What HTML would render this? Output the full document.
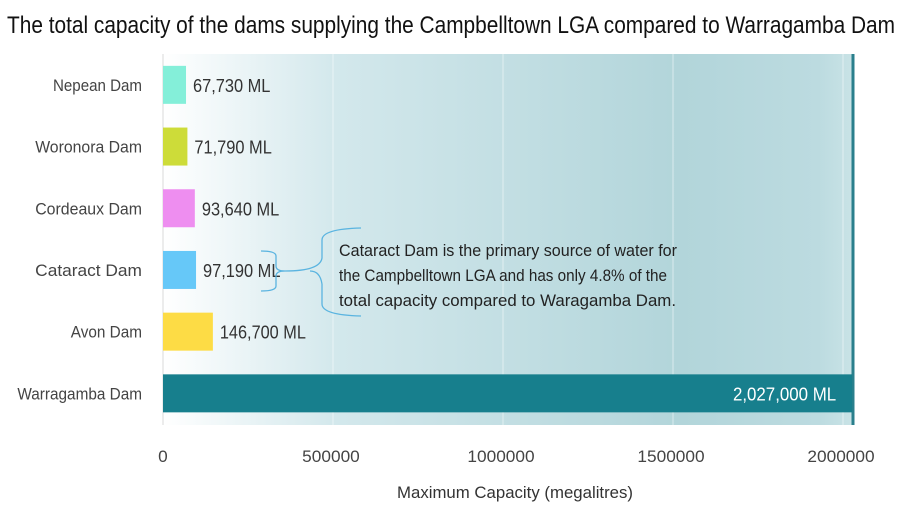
<!DOCTYPE html>
<html><head><meta charset="utf-8"><style>
html,body{margin:0;padding:0;background:#fff}
svg{display:block;font-family:"Liberation Sans Narrow","Liberation Sans",sans-serif}
</style></head><body>
<svg id="chart" width="900" height="510" viewBox="0 0 900 510">
<defs>
<linearGradient id="bg" x1="0" x2="1" y1="0" y2="0">
<stop offset="0" stop-color="#ffffff"/>
<stop offset="0.25" stop-color="#d3e8ec"/>
<stop offset="0.75" stop-color="#b2d5da"/>
<stop offset="0.95" stop-color="#bcdbe0"/>
<stop offset="1" stop-color="#c9e3e6"/>
</linearGradient>
</defs>
<text x="7" y="33" font-size="24" fill="#111" textLength="888" lengthAdjust="spacingAndGlyphs">The total capacity of the dams supplying the Campbelltown LGA compared to Warragamba Dam</text>
<rect x="163" y="54" width="690" height="371" fill="url(#bg)"/>
<line x1="853" y1="54" x2="853" y2="425" stroke="#2a7f8c" stroke-width="3"/>
<line x1="163" y1="54" x2="163" y2="425" stroke="#d8d8d8" stroke-width="1"/>
<g id="grid"></g>
<g id="bars"></g>
<g id="labels"></g>
<g id="ticks"></g>
<g>
<path d="M261,251 Q276,251 276,256 L276,266 Q276,271 285,271 Q276,271 276,276 L276,286 Q276,291 261,291" fill="none" stroke="#5ab4e0" stroke-width="1.3"/>
<path d="M285,271 Q320,271 322,258 L322,240 Q322,229 361,228 M322,284 L322,304 Q322,315 361,316 M322,284 Q320,271 310,271" fill="none" stroke="#5ab4e0" stroke-width="1.3"/>
<text font-size="17" fill="#222">
<tspan x="339" y="256" textLength="338" lengthAdjust="spacingAndGlyphs">Cataract Dam is the primary source of water for</tspan>
<tspan x="339" y="281" textLength="328" lengthAdjust="spacingAndGlyphs">the Campbelltown LGA and has only 4.8% of the</tspan>
<tspan x="339" y="306" textLength="337" lengthAdjust="spacingAndGlyphs">total capacity compared to Waragamba Dam.</tspan>
</text>
</g>
<text x="515" y="498" font-size="17" fill="#333" text-anchor="middle" textLength="236" lengthAdjust="spacingAndGlyphs">Maximum Capacity (megalitres)</text>
</svg>
<script>
const categories = ["Nepean Dam","Woronora Dam","Cordeaux Dam","Cataract Dam","Avon Dam","Warragamba Dam"];
const values = [67730, 71790, 93640, 97190, 146700, 2027000];
const valueLabels = ["67,730 ML","71,790 ML","93,640 ML","97,190 ML","146,700 ML","2,027,000 ML"];
const colors = ["#84efd9","#cddc39","#ee8ef0","#66c8f8","#fddc45","#177f8d"];
const tickValues = [0, 500000, 1000000, 1500000, 2000000];
const tickLabels = ["0","500000","1000000","1500000","2000000"];

const NS = "http://www.w3.org/2000/svg";
const x0 = 163, pxPer = 340/1000000;
const xScale = v => x0 + v * pxPer;
const rowTop = 54, rowH = 61.7, barH = 38;
const yCenter = i => rowTop + rowH * (i + 0.5);
function mk(tag, attrs, parent){const e=document.createElementNS(NS,tag);for(const k in attrs)e.setAttribute(k,attrs[k]);parent.appendChild(e);return e;}
const grid=document.getElementById('grid'), bars=document.getElementById('bars'), labels=document.getElementById('labels'), ticks=document.getElementById('ticks');
tickValues.forEach((t,i)=>{
  if(t>0){const g=mk('line',{x1:xScale(t),x2:xScale(t),y1:54,y2:425,stroke:'#ffffff','stroke-opacity':0.5,'stroke-width':1},grid);
  
  }
  const tx=mk('text',{x:xScale(t)+(i===0?0:-2),y:462,'font-size':17,fill:'#444','text-anchor':'middle',textLength:tickLabels[i].length*9.6,lengthAdjust:'spacingAndGlyphs'},ticks);
  tx.textContent=tickLabels[i];
  
  
});
categories.forEach((c,i)=>{
  const yc=yCenter(i);
  const last = i===categories.length-1;
  const r=mk('rect',{x:x0,y:yc-barH/2,width:xScale(values[i])-x0,height:barH,fill:colors[i]},bars);
  
  
  const cl=mk('text',{x:142,y:yc+6,'font-size':17,fill:'#444','text-anchor':'end',textLength:c.length*8.9,lengthAdjust:'spacingAndGlyphs'},labels);
  cl.textContent=c;
  
  
  const vl = last
    ? mk('text',{x:xScale(values[i])-16,y:yc+7,'font-size':18,fill:'#fff','text-anchor':'end',textLength:valueLabels[i].length*8.6,lengthAdjust:'spacingAndGlyphs'},labels)
    : mk('text',{x:xScale(values[i])+7,y:yc+7,'font-size':18,fill:'#333',textLength:valueLabels[i].length*8.6,lengthAdjust:'spacingAndGlyphs'},labels);
  vl.textContent=valueLabels[i];
  
  
});
</script>
</body></html>
